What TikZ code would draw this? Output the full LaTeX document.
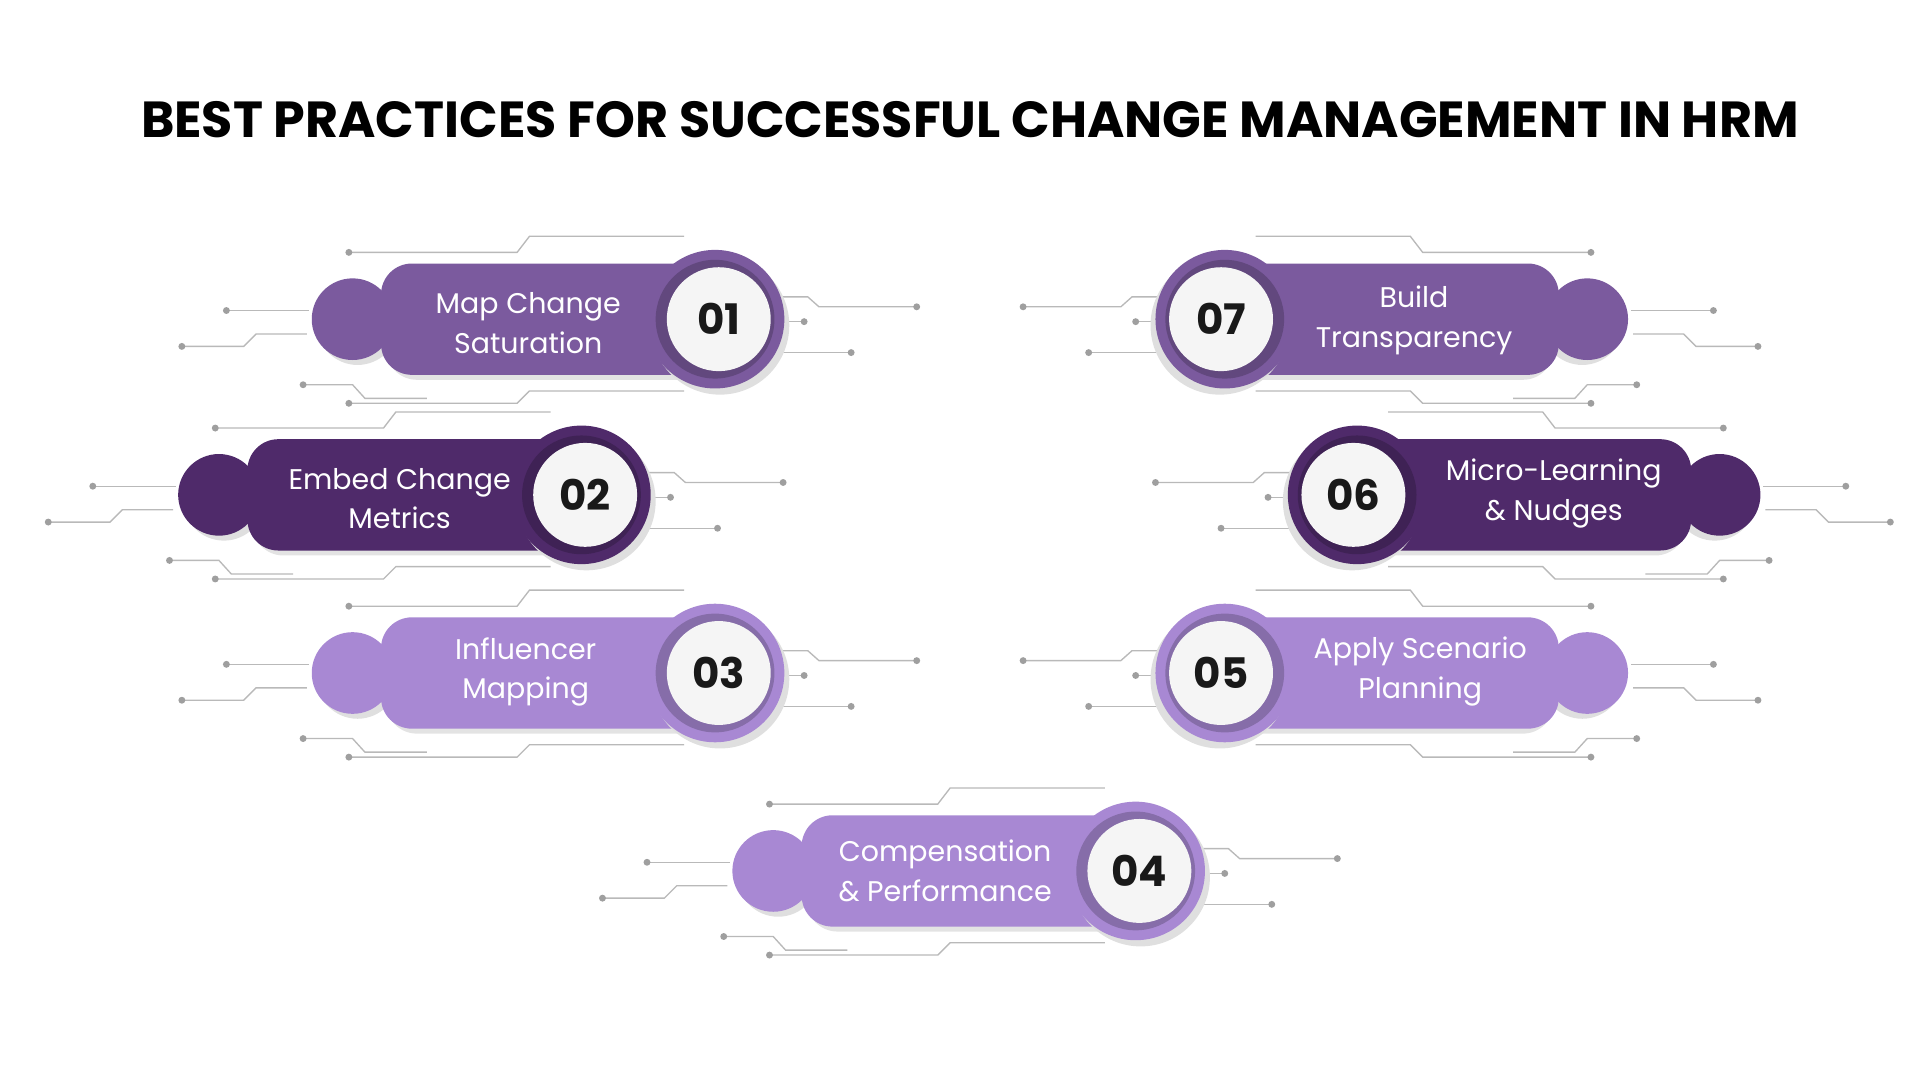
\documentclass[tikz,border=0pt]{standalone}
\usepackage{fontspec}
\setmainfont{Poppins}
\begin{document}
\begin{tikzpicture}[x=1pt,y=1pt,
  ln/.style={draw=gray!55,line width=1.1pt},
  dot/.style={fill=gray!75,draw=none},
  lbl/.style={text=white,align=center,font=\fontsize{23}{32}\selectfont},
  num/.style={font=\fontsize{34}{34}\selectfont\bfseries,text=black!90}]
\definecolor{pmid}{HTML}{7B5A9E}
\definecolor{pdark}{HTML}{4F2A6A}
\definecolor{plight}{HTML}{A888D3}
\useasboundingbox (0,0) rectangle (1552,-873);
\node (title) at (784,-97) {\fontsize{41}{41}\selectfont\bfseries BEST PRACTICES FOR SUCCESSFUL CHANGE MANAGEMENT IN HRM};
\newcommand\stepitem[4]{% #1 x of small circle, #2 y, #3 color, #4 flip
\begin{scope}[shift={(#1,-#2)},xscale=#4]
 \draw[ln] (-3,54) -- (133,54) -- (143,67) -- (268,67);
 \draw[ln] (-102,7) -- (-35,7);
 \draw[ln] (-138,-22) -- (-88,-22) -- (-78,-12) -- (-37,-12);
 \draw[ln] (-40,-53) -- (0,-53) -- (10,-64) -- (60,-64);
 \draw[ln] (-3,-68) -- (133,-68) -- (143,-58) -- (268,-58);
 \draw[ln] (340,18) -- (368,18) -- (377,10) -- (456,10);
 \draw[ln] (340,-2) -- (365,-2);
 \draw[ln] (340,-27) -- (403,-27);
 \foreach \p in {(-3,54),(-102,7),(-138,-22),(-40,-53),(-3,-68),(456,10),(365,-2),(403,-27)} \fill[dot] \p circle (2.8);
 \fill[gray!25] (4,-4) circle (33);
 \fill[fill=#3] (0,0) circle (33);
 \fill[gray!22,rounded corners=25] (27,-49) rectangle (292,41);
 \fill[fill=#3,rounded corners=25] (23,-45) rectangle (290,45);
 \fill[gray!25] (297,-5) circle (56);
 \fill[fill=#3] (293,0) circle (56);
 \fill[fill=#3!80!black] (293,0) circle (48);
 \fill[gray!8] (296,0) circle (42);
\end{scope}}
\stepitem{285}{258}{pmid}{1}
\stepitem{177}{400}{pdark}{1}
\stepitem{285}{544}{plight}{1}
\stepitem{625}{704}{plight}{1}
\stepitem{1283}{258}{pmid}{-1}
\stepitem{1390}{400}{pdark}{-1}
\stepitem{1283}{544}{plight}{-1}
\node[lbl] (t1) at (427,-261) {Map Change\\Saturation};
\node[lbl] (t2) at (323,-403) {Embed Change\\Metrics};
\node[lbl] (t3) at (425,-543) {Influencer\\Mapping};
\node[lbl] (t4) at (764,-704) {Compensation\\\& Performance};
\node[lbl] (t5) at (1148,-543) {Apply Scenario\\Planning};
\node[lbl] (t6) at (1256,-399) {Micro-Learning\\\& Nudges};
\node[lbl] (t7) at (1143,-259) {Build\\Transparency};
\node[num] (n1) at (581,-258) {01};
\node[num] (n2) at (473,-400) {02};
\node[num] (n3) at (581,-544) {03};
\node[num] (n4) at (921,-704) {04};
\node[num] (n5) at (987,-544) {05};
\node[num] (n6) at (1094,-400) {06};
\node[num] (n7) at (987,-258) {07};
\end{tikzpicture}
\end{document}
